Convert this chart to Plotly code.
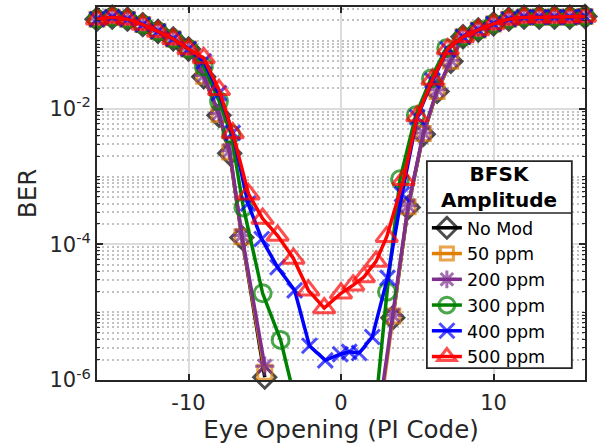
import plotly.graph_objects as go

# ---------------- data ----------------
top_left_x = [-16, -15, -14, -13, -12, -11, -10]
top_left_ber = [0.209, 0.224, 0.209, 0.174, 0.138, 0.107, 0.076]
top_right_x = [8, 9, 10, 11, 12, 13, 14, 15, 16]
top_right_ber = [0.115, 0.145, 0.178, 0.209, 0.224, 0.224, 0.224, 0.224, 0.229]

# None = no measurable error (gap on the log axis)
nomod_x = [-9, -8, -7.3, -6.5, -5.0, 0.0, 3.4, 4.4, 5.4, 6.3, 7.2]
nomod_ber = [0.0295, 0.008, 0.0022, 1.26e-4, 1.1e-6, None, 8.3e-6, 3.5e-4, 4.2e-3, 0.018, 0.05]

ppm50_x = [-9, -8, -7.3, -6.5, -5.0, 0.0, 2.6, 3.4, 4.4, 5.4, 6.3, 7.2]
ppm50_ber = [0.030, 0.0082, 0.0023, 1.3e-4, 1.3e-6, None, 4e-7, 8.8e-6, 3.6e-4, 4.3e-3, 0.018, 0.05]

ppm200_x = [-9, -8, -7.3, -6.5, -5.0, 0.0, 2.6, 3.4, 4.4, 5.4, 6.3, 7.2]
ppm200_ber = [0.031, 0.0085, 0.0024, 1.35e-4, 1.6e-6, None, 5e-7, 9.0e-6, 3.7e-4, 4.4e-3, 0.019, 0.052]

ppm300_x = [-9, -8, -7.2, -6.4, -5.14, -3.96, -2.9, 2.0, 3.02, 3.87, 4.9, 5.9, 6.9]
ppm300_ber = [0.042, 0.013, 0.0042, 3.5e-4, 1.9e-5, 3.9e-6, 4e-7, 1e-7, 2.0e-5, 9.1e-4, 0.0080, 0.028, 0.078]

ppm400_x = [-9, -8, -7.1, -6.1, -5.2, -4.16, -3.04, -2.07, -1.03, -0.05, 0.54, 1.19, 2.05, 3.05, 4.0, 5.0, 6, 7]
ppm400_ber = [0.05, 0.017, 0.0044, 4.0e-4, 1.2e-4, 4.6e-5, 2.1e-5, 3.2e-6, 1.95e-6, 2.4e-6,
              2.6e-6, 2.5e-6, 4.3e-6, 3.2e-5, 5.5e-4, 0.0075, 0.026, 0.075]

ppm500_x = [-9, -8, -7.1, -6.06, -5.14, -4.16, -3.12, -2.14, -1.1, 0.0, 0.8, 1.5, 2.3, 3.0, 4.1, 5.0, 6, 7]
ppm500_ber = [0.056, 0.019, 0.0044, 5.5e-4, 2.4e-4, 1.35e-4, 6.2e-5, 2.1e-5, 1.15e-5, 1.9e-5,
              2.5e-5, 3.3e-5, 5.6e-5, 1.3e-4, 9e-4, 0.0078, 0.027, 0.076]

series_names = ["No Mod", "50 ppm", "200 ppm", "300 ppm", "400 ppm", "500 ppm"]
series_x = [nomod_x, ppm50_x, ppm200_x, ppm300_x, ppm400_x, ppm500_x]
series_ber = [nomod_ber, ppm50_ber, ppm200_ber, ppm300_ber, ppm400_ber, ppm500_ber]

legend_title = "BFSK<br>Amplitude"
y_tick_vals = [1e-6, 1e-4, 1e-2]
y_tick_text = ["10<sup>-6</sup>", "10<sup>-4</sup>", "10<sup>-2</sup>"]
x_tick_vals = [-10, 0, 10]
x_tick_text = ["-10", "0", "10"]

# ---------------- style ----------------
colors = ["#000000", "#E07F00", "#7E2F8E", "#008000", "#0000FF", "#FF0000"]
symbols = ["diamond-open", "square-open", "asterisk-open", "circle-open", "x-thin-open", "triangle-up-open"]
msizes = [17, 14, 16, 17, 15, 19]
FONT = "DejaVu Sans"
AX = "#262626"
YMIN = 1e-6

fig = go.Figure()
for name, xs, ys, col, sym, ms in zip(series_names, series_x, series_ber, colors, symbols, msizes):
    X = top_left_x + xs + top_right_x
    Y = top_left_ber + ys + top_right_ber
    sizes = [ms if (v is not None and v >= YMIN) else 0 for v in Y]
    fig.add_trace(go.Scatter(
        x=X, y=Y, name=name, mode="lines+markers",
        line=dict(color=col, width=3.5),
        marker=dict(symbol=sym, size=sizes, color=col,
                    line=dict(color=col, width=3)),
        cliponaxis=False, connectgaps=False,
    ))

minor_vals = []
for k in range(-6, 0):
    for m in range(1, 10):
        v = m * 10.0 ** k
        if v not in y_tick_vals:
            minor_vals.append(v)

# legend frame geometry (paper fractions)
LX0, LX1 = 0.676, 0.973
LY0, LY1 = 0.032, 0.587
LSEP = 0.448

fig.update_layout(
    width=604, height=446,
    margin=dict(l=97, r=19, t=5, b=66),
    paper_bgcolor="white", plot_bgcolor="white",
    font=dict(family=FONT, color=AX),
    showlegend=True,
    legend=dict(
        x=LX0, y=LSEP + 0.008, xanchor="left", yanchor="top",
        bgcolor="rgba(0,0,0,0)", borderwidth=0,
        font=dict(family=FONT, size=17.5, color="black"),
        itemwidth=30, tracegroupgap=0,
    ),
    xaxis=dict(
        range=[-16, 16], tickmode="array", tickvals=x_tick_vals, ticktext=x_tick_text,
        tickfont=dict(size=21, color=AX), ticklabelstandoff=3,
        title=dict(text="Eye Opening (PI Code)", font=dict(size=24.5, color=AX), standoff=5),
        showline=True, linecolor=AX, linewidth=2, mirror="ticks",
        ticks="inside", ticklen=6, tickwidth=1.5, tickcolor=AX,
        showgrid=True, gridcolor="#dcdcdc", gridwidth=1.5, zeroline=False,
    ),
    yaxis=dict(
        type="log", range=[-6, -0.5], tickmode="array", tickvals=y_tick_vals, ticktext=y_tick_text,
        tickfont=dict(size=21, color=AX),
        title=dict(text="BER", font=dict(size=24.5, color=AX), standoff=6),
        showline=True, linecolor=AX, linewidth=2, mirror="ticks",
        ticks="inside", ticklen=6, tickwidth=1.5, tickcolor=AX,
        showgrid=True, gridcolor="#dcdcdc", gridwidth=1.5, zeroline=False,
        minor=dict(tickmode="array", tickvals=minor_vals, ticks="inside", ticklen=3,
                   tickwidth=1.2, tickcolor=AX, showgrid=True, gridcolor="#c2c2c2",
                   griddash="2px,3px", gridwidth=1.5),
    ),
    shapes=[
        dict(type="rect", xref="paper", yref="paper", layer="above",
             x0=LX0, x1=LX1, y0=LY0, y1=LY1, fillcolor="white",
             line=dict(color=AX, width=1.8)),
        dict(type="line", xref="paper", yref="paper", layer="above",
             x0=LX0, x1=LX1, y0=LSEP, y1=LSEP, line=dict(color=AX, width=1.5)),
    ],
    annotations=[
        dict(text="<b>" + legend_title + "</b>", xref="paper", yref="paper",
             x=(LX0 + LX1) / 2, y=(LY1 + LSEP) / 2, xanchor="center", yanchor="middle",
             align="center", showarrow=False,
             font=dict(family=FONT, size=20, color="black")),
    ],
)

fig.write_html("out.html", config={"displayModeBar": False},
               post_script="document.body.style.margin='0';")
